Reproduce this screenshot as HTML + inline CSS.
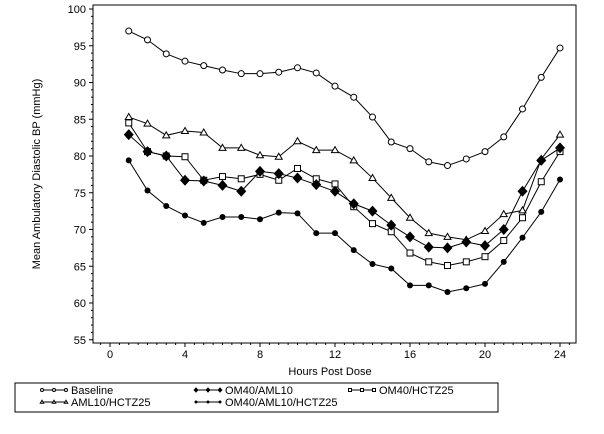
<!DOCTYPE html>
<html><head><meta charset="utf-8"><style>
body{margin:0;background:#fff;width:604px;height:429px;overflow:hidden;font-family:"Liberation Sans",sans-serif}
svg text{font-family:"Liberation Sans",sans-serif;font-size:11px;fill:#000}
</style></head><body>
<svg id="chart" width="604" height="429" viewBox="0 0 604 429"></svg>
<script>
const hours=[1,2,3,4,5,6,7,8,9,10,11,12,13,14,15,16,17,18,19,20,21,22,23,24];
const baseline=[97.0,95.8,93.9,92.9,92.3,91.7,91.2,91.2,91.4,92.0,91.3,89.5,88.0,85.3,81.9,81.0,79.2,78.7,79.6,80.6,82.6,86.4,90.7,94.7];
const aml10hctz25=[85.3,84.4,82.8,83.4,83.2,81.1,81.1,80.1,79.9,82.0,80.8,80.8,79.4,77.0,74.3,71.6,69.5,69.0,68.6,69.8,72.1,72.6,79.6,82.9];
const om40hctz25=[84.5,80.6,80.0,79.9,76.7,77.2,76.9,77.5,76.7,78.3,76.9,76.2,73.1,70.8,69.7,66.8,65.6,65.1,65.6,66.3,68.5,71.6,76.5,80.6];
const om40aml10=[82.9,80.6,80.0,76.7,76.6,76.0,75.2,77.9,77.6,77.0,76.1,75.2,73.5,72.5,70.6,69.0,67.6,67.5,68.3,67.8,70.0,75.2,79.4,81.1];
const triple=[79.4,75.3,73.2,71.9,70.9,71.7,71.7,71.4,72.3,72.2,69.5,69.5,67.2,65.3,64.7,62.4,62.4,61.5,62.0,62.6,65.6,68.9,72.4,76.8];
const yTicks=[55,60,65,70,75,80,85,90,95,100];
const xTicks=[0,4,8,12,16,20,24];
const NS="http://www.w3.org/2000/svg";
const svg=document.getElementById('chart');
const X=h=>110+h*18.75;
const Y=v=>9+(100-v)*7.35;
function mk(t,a,p){const e=document.createElementNS(NS,t);for(const k in a)e.setAttribute(k,a[k]);(p||svg).appendChild(e);return e;}
const frame=mk('rect',{x:93,y:5,width:483,height:338,fill:'none',stroke:'#000','stroke-width':1});


for(let v=55;v<=100;v++){const big=v%5===0;mk('line',{x1:93,x2:93-(big?4:2),y1:Y(v),y2:Y(v),stroke:'#000'});}
yTicks.forEach(v=>{const t=mk('text',{x:86,y:Y(v)+4,'text-anchor':'end'});t.textContent=v;

});
for(let h=-0.5;h<=24.5;h+=0.5){const big=h%4===0;mk('line',{x1:X(h),x2:X(h),y1:343,y2:343+(big?4:2),stroke:'#000'});}
xTicks.forEach(h=>{const t=mk('text',{x:X(h),y:358,'text-anchor':'middle'});t.textContent=h;

});
const xt=mk('text',{x:330,y:375,'text-anchor':'middle'});xt.textContent='Hours Post Dose';


const yt=mk('text',{x:0,y:0,'text-anchor':'middle',transform:'translate(40,174) rotate(-90)'});yt.textContent='Mean Ambulatory Diastolic BP (mmHg)';


function marker(type,x,y,g,s){
 s=s||1;
 if(type==='circle')mk('circle',{cx:x,cy:y,r:3*s,fill:'#fff',stroke:'#000'},g);
 else if(type==='dot')mk('circle',{cx:x,cy:y,r:3*s,fill:'#000'},g);
 else if(type==='tri')mk('polygon',{points:`${x},${y-3.5*s} ${x-3.5*s},${y+2.5*s} ${x+3.5*s},${y+2.5*s}`,fill:'#fff',stroke:'#000'},g);
 else if(type==='sq')mk('rect',{x:x-3*s,y:y-3*s,width:6*s,height:6*s,fill:'#fff',stroke:'#000'},g);
 else if(type==='dia')mk('polygon',{points:`${x},${y-5.5*s} ${x+5*s},${y} ${x},${y+5.5*s} ${x-5*s},${y}`,fill:'#000'},g);
}
const series=[
 ['baseline',baseline,'circle'],['aml10-hctz25',aml10hctz25,'tri'],['om40-hctz25',om40hctz25,'sq'],
 ['om40-aml10',om40aml10,'dia'],['om40-aml10-hctz25',triple,'dot']];
series.forEach(([n,vals,m])=>{
 const g=mk('g',{});
 
 
 mk('polyline',{points:vals.map((v,i)=>X(hours[i])+','+Y(v)).join(' '),fill:'none',stroke:'#000','stroke-width':1},g);
 vals.forEach((v,i)=>marker(m,X(hours[i]),Y(v),g));
});
const lg=mk('g',{});


mk('rect',{x:15,y:383,width:483,height:29,fill:'#fff',stroke:'#000'},lg);
const items=[['Baseline','circle',42,394],['OM40/AML10','dia',196,394],['OM40/HCTZ25','sq',350,394],['AML10/HCTZ25','tri',42,406],['OM40/AML10/HCTZ25','dot',196,406]];
items.forEach(([lab,m,x,y])=>{
 const g=mk('g',{},lg);
 
 
 mk('line',{x1:x,x2:x+24,y1:y-4,y2:y-4,stroke:'#000'},g);
 [x,x+12,x+24].forEach(px=>marker(m,px,y-4,g,0.5));
 const t=mk('text',{x:x+29,y:y},g);t.textContent=lab;
});
</script>
</body></html>
